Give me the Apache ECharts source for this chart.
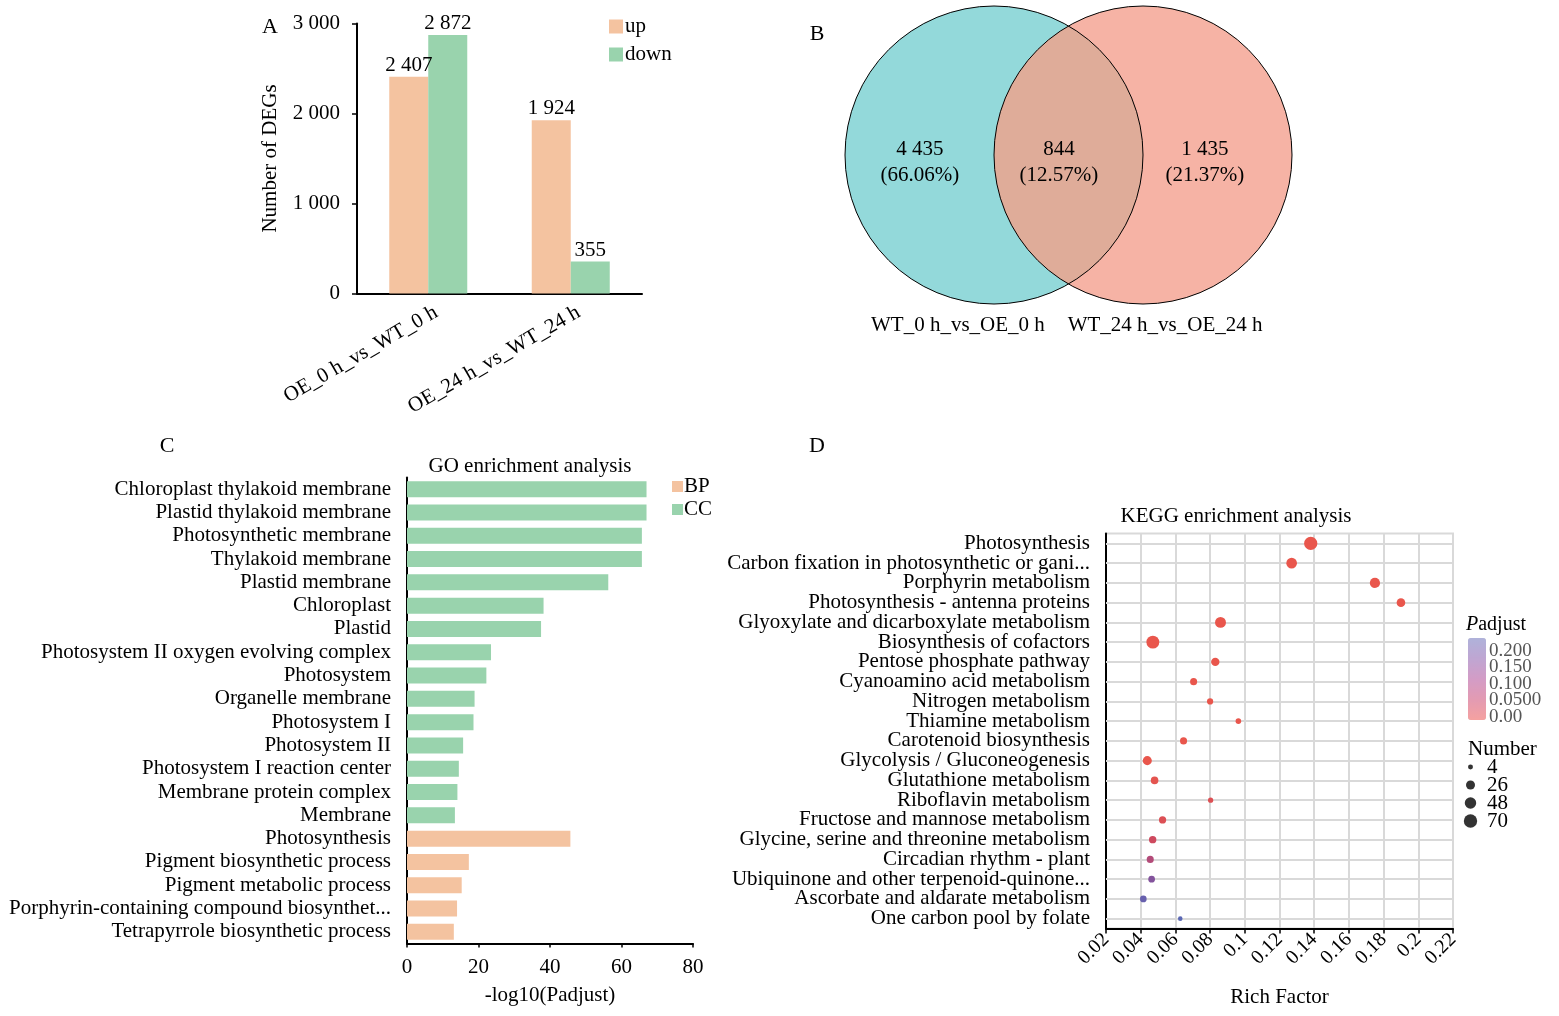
<!DOCTYPE html>
<html><head><meta charset="utf-8">
<script src="https://cdn.jsdelivr.net/npm/echarts@6/dist/echarts.min.js"></script>
<style>html,body{margin:0;padding:0;background:#fff}#c{width:1559px;height:1016px}</style>
</head><body><div id="c"></div>
<script>
const FONT = 'Liberation Serif';

// ---------- Panel A : number of DEGs ----------
const degCategories = ['OE_0 h_vs_WT_0 h', 'OE_24 h_vs_WT_24 h'];
const degUp = [2407, 1924];
const degDown = [2872, 355];

// ---------- Panel B : Venn ----------
const vennSetNames = ['WT_0 h_vs_OE_0 h', 'WT_24 h_vs_OE_24 h'];
const vennOnly = [4435, 1435];
const vennShared = 844;

// ---------- Panel C : GO enrichment ----------
const goTerms = ['Chloroplast thylakoid membrane', 'Plastid thylakoid membrane', 'Photosynthetic membrane',
  'Thylakoid membrane', 'Plastid membrane', 'Chloroplast', 'Plastid', 'Photosystem II oxygen evolving complex',
  'Photosystem', 'Organelle membrane', 'Photosystem I', 'Photosystem II', 'Photosystem I reaction center',
  'Membrane protein complex', 'Membrane', 'Photosynthesis', 'Pigment biosynthetic process',
  'Pigment metabolic process', 'Porphyrin-containing compound biosynthet...', 'Tetrapyrrole biosynthetic process'];
const goClass = ['CC','CC','CC','CC','CC','CC','CC','CC','CC','CC','CC','CC','CC','CC','CC','BP','BP','BP','BP','BP'];
const goLog10Padj = [67.0, 67.0, 65.7, 65.7, 56.3, 38.2, 37.5, 23.5, 22.2, 18.9, 18.6, 15.7, 14.5, 14.1, 13.4,
  45.7, 17.3, 15.3, 14.0, 13.1];

// ---------- Panel D : KEGG enrichment ----------
const keggPathways = ['Photosynthesis', 'Carbon fixation in photosynthetic or gani...', 'Porphyrin metabolism',
  'Photosynthesis - antenna proteins', 'Glyoxylate and dicarboxylate metabolism', 'Biosynthesis of cofactors',
  'Pentose phosphate pathway', 'Cyanoamino acid metabolism', 'Nitrogen metabolism', 'Thiamine metabolism',
  'Carotenoid biosynthesis', 'Glycolysis / Gluconeogenesis', 'Glutathione metabolism', 'Riboflavin metabolism',
  'Fructose and mannose metabolism', 'Glycine, serine and threonine metabolism', 'Circadian rhythm - plant',
  'Ubiquinone and other terpenoid-quinone...', 'Ascorbate and aldarate metabolism', 'One carbon pool by folate'];
const keggRichFactor = [0.138, 0.127, 0.175, 0.190, 0.086, 0.047, 0.083, 0.0705, 0.080, 0.0963,
  0.0647, 0.0438, 0.048, 0.0803, 0.0526, 0.0469, 0.0455, 0.0463, 0.0415, 0.0628];
const keggNumber = [69, 40, 36, 23, 43, 64, 21, 13, 9, 6, 13, 26, 16, 5, 14, 15, 13, 11, 11, 3];
const keggPadjust = [0.0, 0.0, 0.0, 0.0, 0.0, 0.0, 0.0, 0.0, 0.0, 0.0, 0.0, 0.0, 0.008, 0.02, 0.022,
  0.045, 0.085, 0.14, 0.18, 0.2];
const padjTickLabels = ['0.00', '0.0500', '0.100', '0.150', '0.200'];
const numberLegend = [4, 26, 48, 70];

const thousands = n => String(n).replace(/\B(?=(\d{3})+(?!\d))/g, ' ');
const dotSize = n => 2.3 + 1.32 * Math.sqrt(n);
const txt = (size, extra) => Object.assign({ fontFamily: FONT, fontSize: size, color: '#000' }, extra || {});

const chart = echarts.init(document.getElementById('c'), null, { renderer: 'canvas' });

const vennTotal = vennOnly[0] + vennOnly[1] + vennShared;
const pct = v => '(' + (v / vennTotal * 100).toFixed(2) + '%)';

const blackLine = { show: true, lineStyle: { color: '#000', width: 2 } };
const gtext = (x, y, t, size, align) => ({ type: 'text', x: x, y: y,
  style: { text: t, fontSize: size, fontFamily: FONT, fill: '#000', textAlign: align || 'center', textVerticalAlign: 'middle' } });

const option = {
  animation: false,
  backgroundColor: '#fff',
  textStyle: { fontFamily: FONT },
  graphic: [
    gtext(270, 27, 'A', 22), gtext(817, 34, 'B', 22), gtext(167, 446, 'C', 22), gtext(817, 446, 'D', 22),
    gtext(530, 466, 'GO enrichment analysis', 21),
    gtext(1236, 516, 'KEGG enrichment analysis', 21),
    { type: 'text', x: 1466, y: 625, style: { text: '{i|P}adjust', fontSize: 20, fontFamily: FONT, fill: '#000', textAlign: 'left', textVerticalAlign: 'middle', rich: { i: { fontStyle: 'italic', fontSize: 20, fontFamily: FONT } } } },
    gtext(1468, 749, 'Number', 21, 'left')
  ],
  legend: [
    { data: ['up', 'down'], orient: 'vertical', left: 609, top: 16, padding: 0, itemWidth: 14, itemHeight: 14, itemGap: 7, icon: 'rect', textStyle: txt(21, { padding: [0, 0, 0, -3] }) },
    { data: ['BP', 'CC'], orient: 'vertical', left: 672, top: 476, padding: 0, itemWidth: 11, itemHeight: 11, itemGap: 2, icon: 'rect', textStyle: txt(21, { padding: [0, 0, 0, -4] }) }
  ],
  grid: [
    { left: 357, top: 23.5, width: 285, height: 270 },
    { left: 845, top: 6, width: 447, height: 298 },
    { left: 407, top: 477.5, width: 286, height: 466 },
    { left: 1106, top: 533.5, width: 347, height: 395, show: true, borderColor: '#d9d9d9', borderWidth: 2 },
    { left: 1480, top: 642.5, width: 7, height: 82.5 },
    { left: 1466, top: 758, width: 18, height: 72 }
  ],
  xAxis: [
    { gridIndex: 0, type: 'category', data: degCategories, axisLine: blackLine,
      axisTick: { alignWithLabel: true, length: 5, lineStyle: { color: '#000', width: 1.5 } },
      axisLabel: txt(21, { rotate: 30, margin: 22, interval: 0, padding: [0, -9, 0, 0] }) },
    { gridIndex: 1, type: 'value', min: 0, max: 3, show: false },
    { gridIndex: 2, type: 'value', min: 0, max: 80, interval: 20, axisLine: blackLine,
      axisTick: { show: true, length: 4, lineStyle: { color: '#000', width: 1.5 } }, splitLine: { show: false },
      axisLabel: txt(21, { margin: 13 }),
      name: '-log10(Padjust)', nameLocation: 'middle', nameGap: 41, nameTextStyle: txt(21) },
    { gridIndex: 3, type: 'value', min: 0.02, max: 0.22, interval: 0.02, axisLine: blackLine,
      axisTick: { show: true, length: 5, lineStyle: { color: '#000', width: 1.5 } },
      splitLine: { show: true, lineStyle: { color: '#d9d9d9', width: 2 } },
      axisLabel: txt(20, { rotate: 45, margin: 8, formatter: v => String(+(+v).toFixed(2)) }),
      name: 'Rich Factor', nameLocation: 'middle', nameGap: 58, nameTextStyle: txt(21) },
    { gridIndex: 4, type: 'value', show: false },
    { gridIndex: 5, type: 'value', min: 0, max: 1, show: false }
  ],
  yAxis: [
    { gridIndex: 0, type: 'value', min: 0, max: 3000, interval: 1000, axisLine: blackLine,
      axisTick: { show: true, length: 5, lineStyle: { color: '#000', width: 1.5 } }, splitLine: { show: false },
      axisLabel: txt(21, { margin: 17, formatter: thousands }),
      name: 'Number of DEGs', nameLocation: 'middle', nameGap: 76, nameTextStyle: txt(21) },
    { gridIndex: 1, type: 'value', min: -1, max: 1, show: false },
    { gridIndex: 2, type: 'category', data: goTerms, inverse: true, axisLine: blackLine,
      axisTick: { alignWithLabel: true, length: 4, lineStyle: { color: '#000', width: 1.5 } },
      axisLabel: txt(21, { margin: 16, interval: 0 }) },
    { gridIndex: 3, type: 'category', data: keggPathways, inverse: true, axisLine: blackLine,
      axisTick: { alignWithLabel: true, length: 5, lineStyle: { color: '#000', width: 1.5 } },
      splitLine: { show: false }, axisLabel: txt(21, { margin: 16, interval: 0 }) },
    { gridIndex: 4, type: 'category', data: padjTickLabels, position: 'right',
      axisLine: { show: false }, axisTick: { show: false }, splitLine: { show: false },
      axisLabel: txt(19, { color: '#555', margin: 2, interval: 0, hideOverlap: false }) },
    { gridIndex: 5, type: 'category', data: numberLegend.map(String), inverse: true, position: 'right',
      axisLine: { show: false }, axisTick: { show: false },
      axisLabel: txt(21, { margin: 3, interval: 0 }) }
  ],
  visualMap: [{
    type: 'continuous', min: 0, max: 0.2, dimension: 3, seriesIndex: 6,
    left: 1468, top: 638, itemWidth: 18, itemHeight: 82, padding: 0, calculable: false, showLabel: false,
    inRange: { color: ['#E9564C', '#CB4860', '#A84C84', '#7A55A2', '#5A67B4'] },
    controller: { inRange: { color: ['#F5A1A0', '#E39BB2', '#D39CC6', '#BFA6D2', '#AFB2DA'] } }
  }],
  series: [
    { name: 'up', type: 'bar', xAxisIndex: 0, yAxisIndex: 0, data: degUp, barWidth: 39, barGap: '0%',
      itemStyle: { color: '#F4C3A0' }, label: { show: true, position: 'top', distance: 1, formatter: p => thousands(p.value), fontFamily: FONT, fontSize: 21, color: '#000' } },
    { name: 'down', type: 'bar', xAxisIndex: 0, yAxisIndex: 0, data: degDown, barWidth: 39, barGap: '0%',
      itemStyle: { color: '#99D3AD' }, label: { show: true, position: 'top', distance: 1, formatter: p => thousands(p.value), fontFamily: FONT, fontSize: 21, color: '#000' } },
    { type: 'custom', xAxisIndex: 1, yAxisIndex: 1, silent: true, data: [[1.5, 0]],
      renderItem: function (params, api) {
        const c1 = api.coord([1, 0]), c2 = api.coord([2, 0]);
        const r = api.size([1, 0])[0];
        const d = c2[0] - c1[0];
        const th = Math.acos(d / 2 / r);
        const pts = [];
        const N = 80;
        for (let i = 0; i <= N; i++) { const a = -th + 2 * th * i / N; pts.push([c1[0] + r * Math.cos(a), c1[1] + r * Math.sin(a)]); }
        for (let i = 0; i <= N; i++) { const a = Math.PI - th + 2 * th * i / N; pts.push([c2[0] + r * Math.cos(a), c2[1] + r * Math.sin(a)]); }
        const tstyle = (t) => ({ text: t, fontSize: 21, fontFamily: FONT, fill: '#000', textAlign: 'center', textVerticalAlign: 'middle' });
        const pL = api.coord([0.503, 0]), pM = api.coord([1.436, 0]), pR = api.coord([2.416, 0]);
        const nL = api.coord([0.758, 0]), nR = api.coord([2.148, 0]);
        const cy = c1[1];
        return { type: 'group', children: [
          { type: 'circle', shape: { cx: c1[0], cy: c1[1], r: r }, style: { fill: '#93D9DA' } },
          { type: 'circle', shape: { cx: c2[0], cy: c2[1], r: r }, style: { fill: '#F6B3A5' } },
          { type: 'polygon', shape: { points: pts }, style: { fill: '#DFAC99' } },
          { type: 'circle', shape: { cx: c1[0], cy: c1[1], r: r }, style: { fill: null, stroke: '#000', lineWidth: 1 } },
          { type: 'circle', shape: { cx: c2[0], cy: c2[1], r: r }, style: { fill: null, stroke: '#000', lineWidth: 1 } },
          { type: 'text', x: pL[0], y: cy - 6, style: tstyle(thousands(vennOnly[0])) },
          { type: 'text', x: pL[0], y: cy + 20, style: tstyle(pct(vennOnly[0])) },
          { type: 'text', x: pM[0], y: cy - 6, style: tstyle(thousands(vennShared)) },
          { type: 'text', x: pM[0], y: cy + 20, style: tstyle(pct(vennShared)) },
          { type: 'text', x: pR[0], y: cy - 6, style: tstyle(thousands(vennOnly[1])) },
          { type: 'text', x: pR[0], y: cy + 20, style: tstyle(pct(vennOnly[1])) },
          { type: 'text', x: nL[0], y: cy + 170, style: tstyle(vennSetNames[0]) },
          { type: 'text', x: nR[0], y: cy + 170, style: tstyle(vennSetNames[1]) }
        ] };
      } },
    { name: 'BP', type: 'bar', xAxisIndex: 2, yAxisIndex: 2, stack: 'go', barWidth: 16,
      data: goLog10Padj.map((v, i) => goClass[i] === 'BP' ? v : '-'), itemStyle: { color: '#F4C3A0' } },
    { name: 'CC', type: 'bar', xAxisIndex: 2, yAxisIndex: 2, stack: 'go', barWidth: 16,
      data: goLog10Padj.map((v, i) => goClass[i] === 'CC' ? v : '-'), itemStyle: { color: '#99D3AD' } },
    { type: 'scatter', xAxisIndex: 3, yAxisIndex: 3, data: [], silent: true, z: 1,
      markLine: { silent: true, symbol: ['none', 'none'], label: { show: false },
        lineStyle: { color: '#d9d9d9', width: 2, type: 'solid' }, emphasis: { disabled: true },
        data: keggPathways.map(p => ({ yAxis: p })) } },
    { type: 'scatter', xAxisIndex: 3, yAxisIndex: 3, z: 5,
      data: keggPathways.map((p, i) => [keggRichFactor[i], p, keggNumber[i], keggPadjust[i]]),
      symbolSize: v => dotSize(v[2]), itemStyle: { opacity: 1 } },
    { type: 'scatter', xAxisIndex: 5, yAxisIndex: 5, silent: true,
      data: numberLegend.map(n => [0.25, String(n), n]), symbolSize: v => dotSize(v[2]), itemStyle: { color: '#000' } },
    { type: 'scatter', xAxisIndex: 4, yAxisIndex: 4, data: [], silent: true }
  ]
};
chart.setOption(option);
</script>
</body></html>
